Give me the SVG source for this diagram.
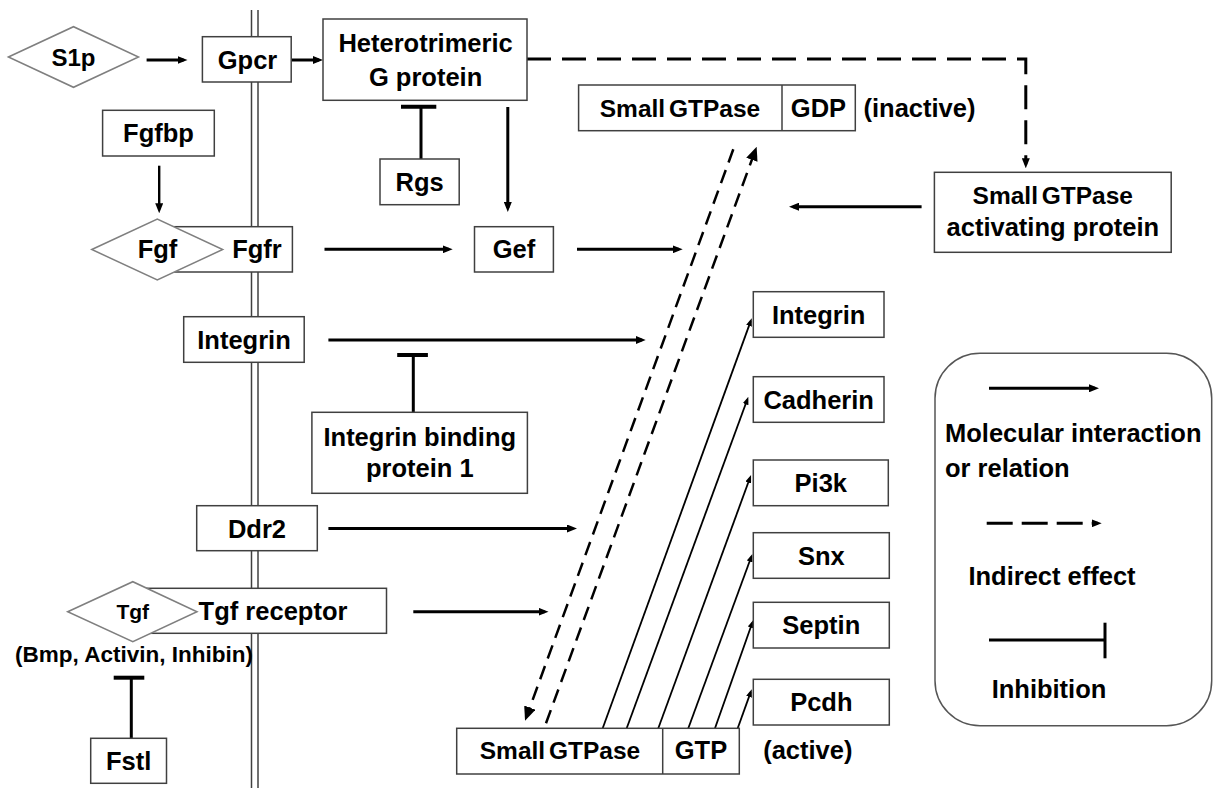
<svg xmlns="http://www.w3.org/2000/svg" width="1217" height="788" viewBox="0 0 1217 788">
<style>
text{font-family:"Liberation Sans",Arial,sans-serif;font-weight:bold;font-size:25.5px;fill:#000;text-anchor:middle}
.box{fill:#fff;stroke:#404040;stroke-width:1.5}
.dia{fill:#fff;stroke:#7f7f7f;stroke-width:1.5}
.mem{stroke:#404040;stroke-width:1.5;fill:none}
.sg{font-size:24.5px;word-spacing:-3px}
.a{fill:none;stroke:#000;stroke-width:3}
.a2{fill:none;stroke:#000;stroke-width:2.4}
.t{fill:none;stroke:#000;stroke-width:1.8}
.d{fill:none;stroke:#000;stroke-width:3;stroke-dasharray:24 11}
.ds{fill:none;stroke:#000;stroke-width:2.5;stroke-dasharray:14 8}
.bar{fill:none;stroke:#000;stroke-width:4}
.leg{fill:#fff;stroke:#555;stroke-width:1.5}
</style>
<defs>
<marker id="ah" markerUnits="userSpaceOnUse" viewBox="0 0 10 8" refX="6" refY="4" markerWidth="10" markerHeight="8" orient="auto"><path d="M0,0 L10,4 L0,8 z" fill="#000"/></marker>
<marker id="ab" markerUnits="userSpaceOnUse" viewBox="0 0 14 12" refX="8" refY="6" markerWidth="14" markerHeight="12" orient="auto"><path d="M0,0 L14,6 L0,12 z" fill="#000"/></marker>
<marker id="at" markerUnits="userSpaceOnUse" viewBox="0 0 8 6" refX="5" refY="3" markerWidth="8" markerHeight="6" orient="auto"><path d="M0,0 L8,3 L0,6 z" fill="#000"/></marker>
</defs>
<rect width="1217" height="788" fill="#fff"/>
<g id="membrane">
<line class="mem" x1="251.5" y1="10" x2="251.5" y2="788"/>
<line class="mem" x1="258" y1="10" x2="258" y2="788"/>
</g>
<g id="connectors">
<path class="a" d="M146.6,60 H183.5" marker-end="url(#ah)"/>
<path class="a" d="M291.2,60 H319" marker-end="url(#ah)"/>
<path class="a" d="M507.8,107 V208" marker-end="url(#ah)"/>
<path class="a2" d="M159.2,165.7 V209.3" marker-end="url(#ah)"/>
<path class="a" d="M324.5,249.3 H448.7" marker-end="url(#ah)"/>
<path class="a" d="M577,249.3 H678.7" marker-end="url(#ah)"/>
<path class="a" d="M921.6,206.7 H793" marker-end="url(#ah)"/>
<path class="a" d="M328.4,340 H641.7" marker-end="url(#ah)"/>
<path class="a" d="M328.4,528.5 H573" marker-end="url(#ah)"/>
<path class="a" d="M413.3,611.7 H544.5" marker-end="url(#ah)"/>
<path class="d" d="M527,59 H1025.8 V164.3" marker-end="url(#ah)"/>
<path class="ds" d="M733.3,149.3 L527.1,715.1" marker-end="url(#ab)"/>
<path class="ds" d="M546,723.3 L754.6,152.3" marker-end="url(#ab)"/>
<path class="t" d="M602.7,728.3 L750.7,321.1" marker-end="url(#at)"/>
<path class="t" d="M626.7,728.3 L747.3,399.5" marker-end="url(#at)"/>
<path class="t" d="M658.3,728.3 L750,477.8" marker-end="url(#at)"/>
<path class="t" d="M688.3,728.3 L751.3,556.8" marker-end="url(#at)"/>
<path class="t" d="M715,728.3 L752.3,622.8" marker-end="url(#at)"/>
<path class="t" d="M737.7,728.3 L750.7,692.1" marker-end="url(#at)"/>
<path class="a" d="M421,107 V159"/>
<path class="bar" d="M401,106.7 H436.3"/>
<path class="a" d="M413.3,355 V412.3"/>
<path class="bar" d="M397.2,355 H427.9"/>
<path class="a" d="M131.3,677.7 V738.3"/>
<path class="bar" d="M113.7,677.7 H144.3"/>
</g>
<g id="s1p"><polygon class="dia" points="8.4,57 73.5,26.7 138.5,57 73.5,87.3"/><text x="73.5" y="65.5" style="font-size:24px">S1p</text></g>
<g id="gpcr"><rect class="box" x="202.4" y="36.7" width="88.8" height="45.3"/><text x="247.5" y="68.5">Gpcr</text></g>
<g id="heterotrimeric"><rect class="box" x="323" y="19" width="204" height="81.3"/><text x="425.6" y="52">Heterotrimeric</text><text x="425.6" y="85.5">G protein</text></g>
<g id="fgfbp"><rect class="box" x="102.6" y="110.3" width="111.7" height="45.7"/><text x="158.5" y="142">Fgfbp</text></g>
<g id="rgs"><rect class="box" x="380" y="159" width="79.2" height="45.7"/><text x="419.6" y="191">Rgs</text></g>
<g id="gef"><rect class="box" x="474.5" y="226.7" width="78.9" height="45.3"/><text x="514" y="257.5">Gef</text></g>
<g id="fgfr"><rect class="box" x="165" y="226.7" width="127.4" height="45.3"/><text x="257" y="257.5">Fgfr</text></g>
<g id="fgf"><polygon class="dia" points="91.8,249.5 157.3,219 222.7,249.5 157.3,280"/><text x="157.5" y="257.5">Fgf</text></g>
<g id="integrin-left"><rect class="box" x="183.7" y="316.7" width="120.5" height="45.6"/><text x="244" y="348.5">Integrin</text></g>
<g id="integrin-binding-protein"><rect class="box" x="311.9" y="412.3" width="215.5" height="81"/><text x="419.8" y="445.5">Integrin binding</text><text x="419.8" y="477">protein 1</text></g>
<g id="ddr2"><rect class="box" x="196.7" y="505.7" width="120.6" height="45"/><text x="257" y="537.5">Ddr2</text></g>
<g id="tgf-receptor"><rect class="box" x="140" y="588.3" width="246.5" height="45"/><text x="273" y="620.3">Tgf receptor</text></g>
<g id="tgf"><polygon class="dia" points="67.7,611.7 132.8,581.7 197,611.7 132.8,641.7"/><text x="132.8" y="618.8" style="font-size:21px">Tgf</text><text x="134" y="662" style="font-size:22.5px">(Bmp, Activin, Inhibin)</text></g>
<g id="fstl"><rect class="box" x="90.7" y="738.3" width="75.8" height="45"/><text x="128.6" y="770.3">Fstl</text></g>
<g id="gtpase-gdp"><rect class="box" x="578.6" y="85" width="276.7" height="45.7"/><line class="box" x1="782" y1="85" x2="782" y2="130.7"/><text class="sg" x="680" y="117">Small GTPase</text><text x="818.5" y="117">GDP</text><text x="919.5" y="117">(inactive)</text></g>
<g id="gap"><rect class="box" x="934.4" y="172.3" width="236.8" height="80"/><text class="sg" x="1052.8" y="204.3">Small GTPase</text><text x="1052.8" y="236.3">activating protein</text></g>
<g id="integrin-right"><rect class="box" x="753.3" y="291.7" width="130.7" height="45.6"/><text x="818.7" y="323.5">Integrin</text></g>
<g id="cadherin"><rect class="box" x="753.3" y="376.7" width="130.7" height="45.6"/><text x="818.7" y="408.5">Cadherin</text></g>
<g id="pi3k"><rect class="box" x="753.3" y="460" width="135" height="45.7"/><text x="820.8" y="492">Pi3k</text></g>
<g id="snx"><rect class="box" x="753.3" y="532.7" width="136" height="45.6"/><text x="821.3" y="565.3">Snx</text></g>
<g id="septin"><rect class="box" x="753.3" y="602.3" width="136" height="45.7"/><text x="821.3" y="634.3">Septin</text></g>
<g id="pcdh"><rect class="box" x="753.3" y="679.3" width="136" height="45.7"/><text x="821.3" y="711.3">Pcdh</text></g>
<g id="gtpase-gtp"><rect class="box" x="456.7" y="728.3" width="282.6" height="45.7"/><line class="box" x1="662.7" y1="728.3" x2="662.7" y2="774"/><text class="sg" x="560" y="759.3">Small GTPase</text><text x="701" y="759.3">GTP</text><text x="807.8" y="759.3">(active)</text></g>
<g id="legend">
<rect class="leg" x="935" y="353.3" width="276.7" height="372.4" rx="45" ry="45"/>
<path class="a" d="M989,388.3 H1095" marker-end="url(#ah)"/>
<text x="945" y="442" style="text-anchor:start">Molecular interaction</text>
<text x="945" y="477" style="text-anchor:start">or relation</text>
<path class="d" d="M986.7,523.3 H1097.7" style="stroke-dasharray:26 9" marker-end="url(#ah)"/>
<text x="1052" y="585.3">Indirect effect</text>
<path class="a" d="M989,640 H1105"/>
<path class="a" d="M1105,622.7 V658.3"/>
<text x="1049" y="698.3">Inhibition</text>
</g>
</svg>
